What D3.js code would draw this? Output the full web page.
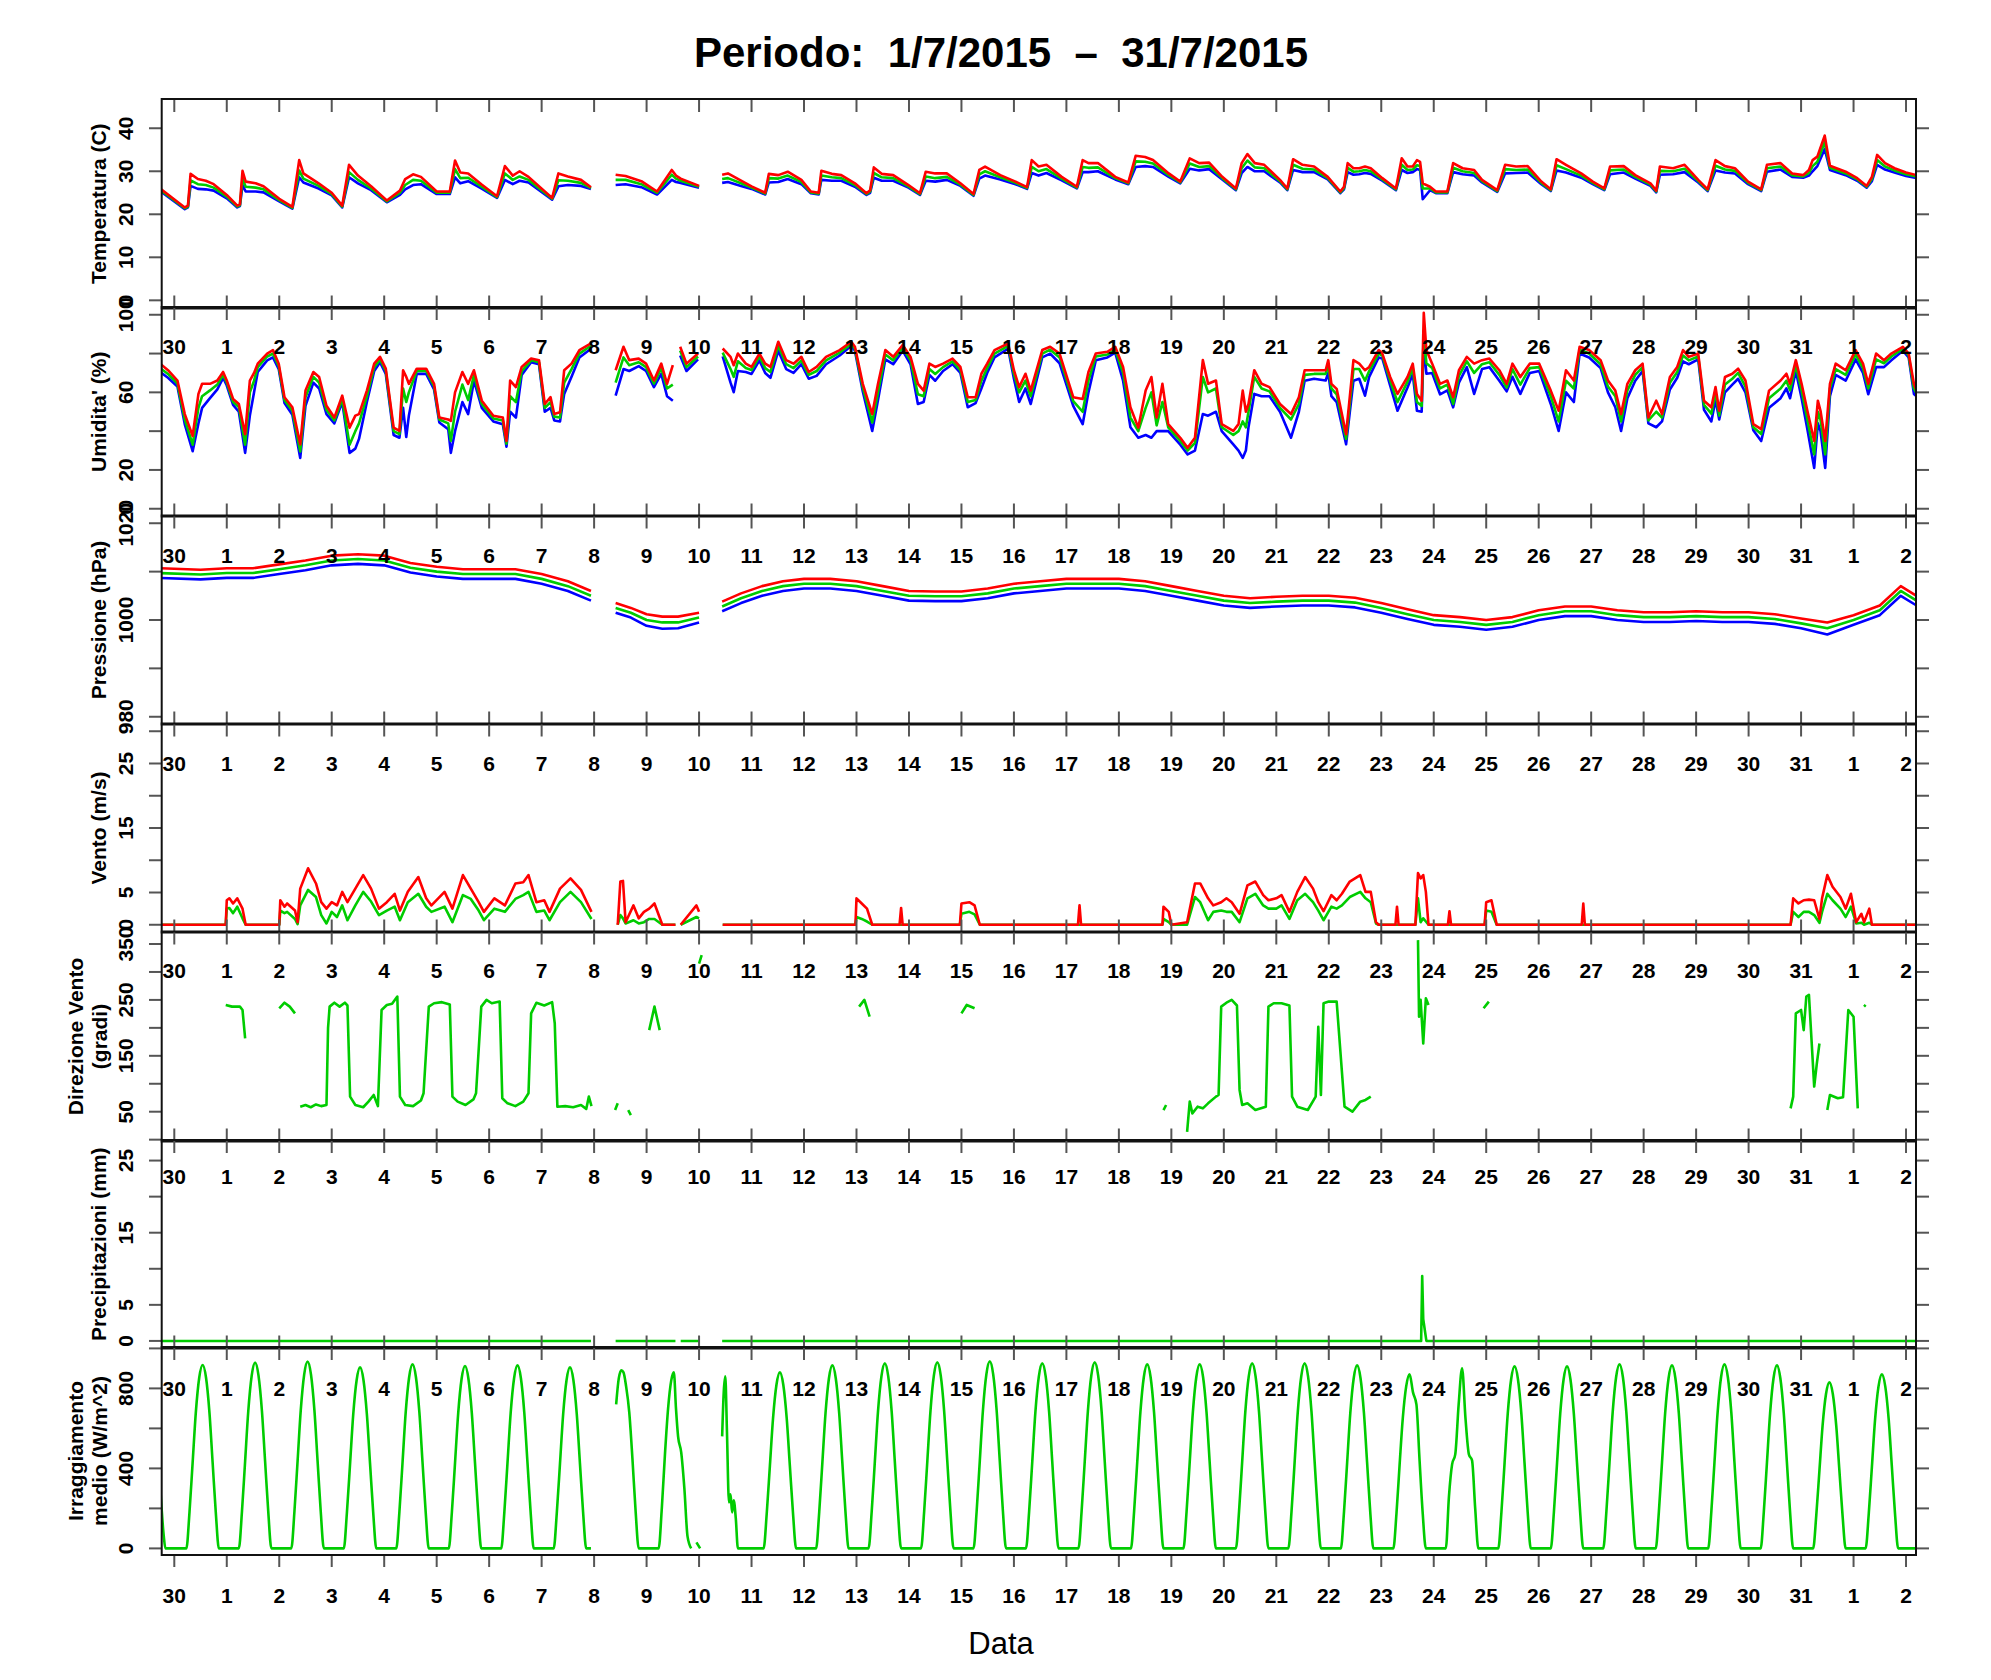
<!DOCTYPE html>
<html>
<head>
<meta charset="utf-8">
<script src="https://cdn.jsdelivr.net/npm/d3@7"></script>
<style>
  body { margin: 0; background: #fff; }
  .axis-text { font-family: "Liberation Sans", Arial, sans-serif; font-weight: bold; font-size: 21px; fill: #000; }
</style>
</head>
<body>
<div id="chart"></div>
<script>
// ---------------- data ----------------
// x is in days: 0 = tick "30", 1 = tick "1", ... 33 = tick "2"
const dayLabels = ["30","1","2","3","4","5","6","7","8","9","10","11","12","13","14","15","16",
  "17","18","19","20","21","22","23","24","25","26","27","28","29","30","31","1","2"];

// Temperatura (C): max (red), media (green), min (blue)
const tempT = [
  -0.27, 0.2, 0.26, 0.31, 0.45, 0.6, 0.75,
  1.0, 1.2, 1.25, 1.3, 1.36, 1.55, 1.7,
  2.0, 2.25, 2.38, 2.46, 2.75,
  3.0, 3.2, 3.33, 3.5, 3.75,
  4.05, 4.3, 4.4, 4.55, 4.7,
  5.0, 5.25, 5.35, 5.45, 5.6, 5.85,
  6.15, 6.3, 6.45, 6.58, 6.75,
  7.2, 7.32, 7.5, 7.75, 7.94, 8.0,
  8.41, 8.6, 8.9,
  9.2, 9.48, 9.56, 9.65,
  10.0, 10.05, 10.44, 10.55, 10.8,
  11.0, 11.26, 11.33, 11.51, 11.69, 11.95,
  12.13, 12.28, 12.33, 12.53, 12.71, 12.97,
  13.19, 13.26, 13.33, 13.48, 13.7, 13.99,
  14.21, 14.32, 14.5, 14.72, 14.98,
  15.23, 15.34, 15.45, 15.74,
  16.03, 16.25, 16.34, 16.47, 16.62, 16.91,
  17.2, 17.31, 17.42, 17.6, 17.93,
  18.18, 18.32, 18.5, 18.65, 18.95,
  19.17, 19.35, 19.53, 19.72, 19.97,
  20.23, 20.34, 20.45, 20.59, 20.77,
  21.07, 21.21, 21.32, 21.5, 21.72, 21.98,
  22.22, 22.29, 22.36, 22.47, 22.58, 22.69, 22.8,
  23.02, 23.28, 23.39, 23.5, 23.6, 23.68, 23.74, 23.79, 23.93,
  24.04, 24.26, 24.37, 24.55, 24.77, 24.92,
  25.21, 25.36, 25.57, 25.79,
  26.05, 26.23, 26.34, 26.52, 26.81,
  27.03, 27.25, 27.36, 27.62, 27.84,
  28.13, 28.24, 28.31, 28.56, 28.78,
  29.04, 29.22, 29.37, 29.55, 29.74, 29.99,
  30.24, 30.35, 30.61, 30.83,
  31.04, 31.15, 31.22, 31.31, 31.45, 31.55, 31.85,
  32.07, 32.25, 32.35, 32.45, 32.6, 32.78,
  33.0, 33.2
];
const tempMax = [
  26.0, 21.6, 22.0, 29.4, 28.2, 27.8, 27.0,
  24.5, 22.0, 22.3, 30.1, 27.6, 27.2, 26.5,
  23.6, 21.7, 32.6, 29.5, 27.2,
  25.0, 22.0, 31.5, 29.0, 26.5,
  23.2, 25.5, 28.2, 29.3, 28.7,
  25.3, 25.3, 32.5, 29.7, 29.5, 27.0,
  24.2, 31.2, 29.0, 30.0, 28.7,
  23.8, 29.5, 28.8, 28.0, 26.3, null,
  29.2, 28.9, 27.7,
  25.3, 30.3, 29.0, 28.3,
  26.6, null, 29.2, 29.5, 27.8,
  26.5, 25.0, 29.4, 29.1, 29.9, 28.0,
  25.3, 25.0, 30.1, 29.4, 29.1, 27.2,
  24.9, 25.6, 30.9, 29.4, 29.1, 26.8,
  24.9, 29.9, 29.5, 29.5, 27.2,
  24.7, 30.3, 31.1, 29.1,
  27.6, 26.3, 32.6, 31.1, 31.5, 28.7,
  26.4, 32.6, 31.9, 31.9, 28.7,
  27.4, 33.6, 33.3, 32.6, 29.5,
  27.6, 33.0, 31.9, 32.0, 28.7,
  26.0, 31.9, 34.0, 31.9, 31.5,
  28.0, 26.0, 32.8, 31.5, 31.1, 28.7,
  25.3, 26.4, 31.9, 30.7, 30.7, 31.1, 30.7,
  28.4, 26.0, 33.0, 31.1, 31.1, 32.6, 32.2, 27.2, 26.4,
  25.3, 25.3, 31.9, 30.7, 30.3, 28.0,
  25.6, 31.5, 31.1, 31.2,
  27.6, 25.8, 32.8, 31.5, 29.5,
  27.6, 26.0, 31.1, 31.2, 29.1,
  27.2, 25.5, 31.1, 30.7, 31.5,
  28.0, 25.8, 32.6, 31.2, 30.7, 27.6,
  25.8, 31.5, 31.9, 29.5,
  29.1, 30.3, 32.6, 33.4, 38.3, 31.3, 29.9,
  28.4, 26.6, 28.7, 33.8, 31.9, 30.7,
  29.7, 29.1
];
const tempMed = [
  25.7, 21.4, 21.8, 27.9, 27.0, 26.8, 26.2,
  24.1, 21.8, 22.1, 28.3, 26.4, 26.2, 25.8,
  23.3, 21.5, 30.2, 28.3, 26.6,
  24.7, 21.8, 29.8, 28.0, 26.0,
  23.0, 25.0, 26.8, 28.0, 27.8,
  25.0, 25.0, 30.5, 28.4, 28.5, 26.5,
  24.0, 29.5, 28.0, 28.8, 28.0,
  23.6, 27.9, 27.8, 27.3, 26.1, null,
  28.0, 28.0, 27.0,
  25.0, 29.2, 28.3, 27.8,
  26.4, null, 28.2, 28.4, 27.2,
  26.2, 24.8, 28.4, 28.3, 29.0, 27.5,
  25.1, 24.8, 29.0, 28.6, 28.4, 26.8,
  24.7, 25.3, 29.6, 28.6, 28.4, 26.5,
  24.7, 28.8, 28.4, 28.7, 26.9,
  24.5, 29.3, 30.0, 28.6,
  27.3, 26.1, 31.0, 30.0, 30.5, 28.3,
  26.2, 31.0, 30.8, 30.9, 28.4,
  27.2, 32.3, 32.2, 31.8, 29.1,
  27.4, 31.8, 31.0, 31.2, 28.4,
  25.8, 30.7, 32.5, 30.9, 30.7,
  27.7, 25.8, 31.5, 30.6, 30.4, 28.4,
  25.1, 26.1, 30.8, 29.9, 30.0, 30.3, 30.0,
  28.1, 25.8, 31.5, 30.3, 30.4, 31.4, 31.2, 26.0, 26.0,
  25.1, 25.1, 30.8, 30.0, 29.6, 27.7,
  25.4, 30.5, 30.3, 30.4,
  27.3, 25.6, 31.4, 30.5, 29.0,
  27.3, 25.8, 30.2, 30.4, 28.7,
  26.9, 25.3, 30.1, 30.0, 30.6,
  27.7, 25.6, 31.3, 30.4, 30.1, 27.3,
  25.6, 30.7, 31.1, 29.1,
  28.8, 29.6, 31.2, 32.2, 36.8, 30.8, 29.5,
  28.1, 26.4, 28.2, 32.6, 31.1, 30.2,
  29.3, 28.8
];
const tempMin = [
  25.4, 21.2, 21.6, 26.6, 25.9, 25.8, 25.5,
  23.7, 21.6, 21.9, 26.8, 25.3, 25.3, 25.1,
  23.0, 21.3, 28.6, 27.4, 26.0,
  24.4, 21.6, 28.6, 27.2, 25.6,
  22.8, 24.5, 25.8, 26.8, 27.0,
  24.7, 24.7, 28.6, 27.2, 27.7, 26.0,
  23.8, 28.0, 27.0, 27.8, 27.4,
  23.4, 26.5, 26.8, 26.6, 25.9, null,
  26.8, 27.0, 26.3,
  24.6, 28.0, 27.5, 27.3,
  26.2, null, 27.3, 27.5, 26.6,
  25.9, 24.6, 27.4, 27.5, 28.2, 27.0,
  24.9, 24.6, 28.0, 27.8, 27.8, 26.4,
  24.5, 25.0, 28.5, 27.8, 27.8, 26.2,
  24.5, 27.8, 27.6, 28.0, 26.6,
  24.3, 28.3, 29.0, 28.1,
  27.0, 25.9, 29.6, 29.0, 29.6, 27.9,
  26.0, 29.8, 29.8, 30.0, 28.1,
  27.0, 31.0, 31.2, 31.0, 28.7,
  27.2, 30.6, 30.2, 30.5, 28.1,
  25.6, 29.6, 31.0, 30.0, 30.0,
  27.4, 25.6, 30.3, 29.8, 29.8, 28.1,
  24.9, 25.8, 29.8, 29.2, 29.3, 29.6, 29.4,
  27.8, 25.6, 30.3, 29.6, 29.8, 30.5, 30.3, 23.5, 25.6,
  24.9, 24.9, 29.8, 29.3, 29.0, 27.4,
  25.2, 29.5, 29.6, 29.7,
  27.0, 25.4, 30.2, 29.7, 28.5,
  27.0, 25.6, 29.3, 29.7, 28.3,
  26.6, 25.1, 29.2, 29.3, 29.8,
  27.4, 25.4, 30.2, 29.7, 29.5, 27.0,
  25.4, 29.9, 30.4, 28.7,
  28.5, 29.0, 30.0, 31.2, 35.2, 30.3, 29.1,
  27.8, 26.2, 27.7, 31.5, 30.4, 29.7,
  28.9, 28.4
];

// Umidita' (%): max (red), media (green), min (blue)
const humT = [
  -0.27, -0.12, 0.06, 0.2, 0.35, 0.46, 0.53, 0.68, 0.82, 0.93,
  1.0, 1.12, 1.23, 1.35, 1.44, 1.52, 1.59, 1.77, 1.88, 1.99,
  2.1, 2.25, 2.4, 2.5, 2.65, 2.76, 2.9,
  3.05, 3.2, 3.34, 3.45, 3.52, 3.67, 3.81, 3.92,
  4.03, 4.18, 4.29, 4.36, 4.42, 4.47, 4.62, 4.8, 4.95,
  5.05, 5.22, 5.27, 5.35, 5.49, 5.6, 5.71, 5.86,
  6.08, 6.26, 6.33, 6.4, 6.51, 6.62, 6.8, 6.95,
  7.06, 7.17, 7.24, 7.35, 7.43, 7.57, 7.72, 7.94, 8.0,
  8.41, 8.56, 8.67, 8.85, 8.99,
  9.14, 9.28, 9.39, 9.5, 9.56, 9.64, 9.76, 9.98,
  10.05, 10.45, 10.6, 10.66, 10.74, 10.89,
  11.0, 11.15, 11.26, 11.36, 11.51, 11.66, 11.8, 11.95,
  12.09, 12.24, 12.42, 12.68, 12.9, 12.97,
  13.12, 13.3, 13.41, 13.55, 13.7, 13.88,
  14.03, 14.17, 14.28, 14.39, 14.5, 14.65, 14.83, 14.98,
  15.12, 15.27, 15.38, 15.49, 15.63, 15.89,
  16.0, 16.1, 16.22, 16.32, 16.54, 16.69, 16.87,
  17.13, 17.31, 17.42, 17.56, 17.78, 17.93,
  18.08, 18.22, 18.37, 18.51, 18.62, 18.72, 18.83, 18.94,
  19.17, 19.31, 19.45, 19.6, 19.7, 19.85, 19.96,
  20.18, 20.28, 20.36, 20.42, 20.47, 20.58, 20.72, 20.87,
  21.07, 21.28, 21.43, 21.54, 21.72, 21.94, 21.99,
  22.05, 22.15, 22.33, 22.47, 22.58, 22.69, 22.77, 22.95,
  23.02, 23.17, 23.31, 23.5, 23.6, 23.68, 23.77, 23.81, 23.86, 23.97,
  24.12, 24.26, 24.37, 24.48, 24.63, 24.77, 24.92,
  25.06, 25.25, 25.39, 25.5, 25.65, 25.83,
  26.01, 26.23, 26.38, 26.52, 26.67, 26.78, 26.96,
  27.18, 27.32, 27.46, 27.57, 27.69, 27.84, 27.98,
  28.09, 28.24, 28.35, 28.5, 28.64, 28.75, 28.86,
  29.04, 29.15, 29.29, 29.37, 29.44, 29.55, 29.69, 29.8, 29.94,
  30.09, 30.24, 30.39, 30.61, 30.72, 30.79, 30.9,
  31.01, 31.12, 31.25, 31.32, 31.37, 31.46, 31.55, 31.66, 31.85,
  32.04, 32.18, 32.28, 32.43, 32.58, 32.72, 32.94,
  33.05, 33.15, 33.2
];
const humMax = [
  74.8, 71.4, 66.1, 48.8, 37.5, 59.2, 64.4, 64.4, 66.1, 70.5,
  66.1, 56.6, 54.0, 38.4, 66.1, 70.0, 74.8, 80.0, 81.8, 74.8,
  57.5, 52.3, 33.2, 60.9, 70.5, 67.9, 53.1,
  47.0, 58.3, 41.8, 48.0, 48.8, 60.9, 74.8, 78.3,
  72.2, 41.8, 40.1, 71.4, 68.0, 64.4, 72.2, 72.2, 64.4,
  47.0, 46.0, 45.3, 60.0, 70.5, 64.4, 71.4, 55.7,
  47.9, 47.0, 34.9, 66.1, 62.7, 73.1, 77.4, 76.6,
  54.0, 57.5, 48.8, 49.7, 71.4, 74.8, 81.8, 85.2, null,
  71.4, 83.5, 76.6, 77.4, 74.8,
  66.1, 74.8, 64.4, 74.0, null, 83.5, 74.8, 80.0,
  null, 82.6, 78.3, 74.0, 80.0, 74.8,
  73.1, 80.0, 74.8, 73.1, 86.1, 76.6, 74.8, 78.3,
  70.5, 73.1, 78.3, 81.8, 86.1, 83.5,
  64.4, 48.8, 64.4, 81.8, 78.3, 84.4,
  78.3, 64.4, 60.9, 74.8, 73.1, 74.8, 77.4, 73.1,
  57.5, 57.5, 69.6, 74.8, 81.8, 85.2,
  71.4, 62.7, 69.6, 60.9, 81.8, 83.5, 80.0,
  57.5, 56.6, 70.5, 80.0, 80.9, 83.5,
  73.1, 52.3, 41.8, 60.9, 67.9, 47.0, 64.4, 43.6,
  36.6, 31.4, 36.6, 76.6, 64.4, 66.1, 43.6,
  40.1, 43.6, 60.9, 50.0, 54.0, 71.4, 64.4, 62.7,
  54.0, 48.8, 57.5, 71.4, 71.4, 71.4, 76.6,
  64.4, 61.8, 38.4, 76.6, 74.8, 71.4, 73.1, 81.8,
  80.0, 67.9, 59.2, 67.9, 74.8, 59.2, 55.7, 101.0, 81.8, 74.8,
  64.4, 66.1, 57.5, 71.4, 78.3, 74.8, 76.6,
  77.4, 71.4, 64.4, 74.8, 67.9, 74.8,
  74.8, 60.9, 50.5, 71.4, 66.1, 83.5, 81.8,
  76.6, 66.1, 60.9, 48.8, 64.4, 71.4, 74.8,
  47.0, 55.7, 48.8, 67.9, 73.1, 81.8, 78.3,
  80.0, 55.7, 52.3, 62.7, 50.5, 67.9, 69.6, 72.2, 66.1,
  43.6, 41.0, 60.9, 66.1, 69.6, 64.4, 76.6,
  64.4, 50.5, 34.9, 55.7, 50.5, 34.9, 64.4, 74.8, 71.4,
  81.8, 74.8, 64.4, 80.0, 76.6, 80.0, 83.5,
  80.0, 64.4, 60.9
];
const humMed = [
  72.5, 69.5, 64.5, 46.0, 33.0, 52.0, 58.0, 61.0, 64.0, 69.0,
  65.0, 55.0, 52.5, 33.0, 60.0, 66.0, 73.0, 78.5, 80.0, 73.5,
  56.0, 50.5, 29.5, 57.5, 68.0, 65.0, 51.0,
  45.5, 56.5, 33.0, 40.0, 44.0, 58.0, 73.0, 77.0,
  71.0, 40.0, 38.5, 62.0, 55.0, 60.0, 71.0, 71.0, 63.0,
  46.0, 44.0, 35.0, 50.0, 64.0, 56.0, 69.0, 54.0,
  46.5, 45.5, 33.5, 58.0, 55.0, 71.0, 76.5, 75.5,
  52.0, 55.0, 47.5, 47.0, 65.0, 72.0, 80.0, 84.0, null,
  65.0, 78.0, 74.0, 75.5, 73.0,
  64.5, 72.5, 62.0, 64.0, null, 81.5, 73.0, 78.5,
  null, 80.5, 72.0, 68.0, 76.0, 72.5,
  71.5, 78.5, 72.5, 70.5, 84.0, 74.5, 72.5, 76.5,
  69.0, 71.0, 76.5, 80.5, 85.0, 82.5,
  62.5, 44.5, 60.0, 79.5, 76.5, 83.0,
  76.5, 59.0, 58.0, 72.0, 69.5, 73.0, 76.0, 71.5,
  55.0, 56.0, 66.0, 72.5, 80.0, 84.0,
  69.5, 60.0, 66.0, 58.0, 80.0, 82.0, 78.0,
  55.5, 50.0, 66.0, 78.5, 79.5, 82.0,
  70.0, 47.0, 40.0, 52.0, 60.0, 43.0, 55.0, 42.0,
  35.0, 30.0, 34.0, 67.9, 60.0, 62.0, 42.0,
  38.0, 40.0, 45.0, 42.0, 50.0, 68.0, 62.0, 60.5,
  52.0, 46.0, 54.0, 69.0, 69.5, 69.5, 74.0,
  62.0, 59.0, 36.0, 72.0, 72.0, 66.0, 71.0, 80.0,
  79.0, 66.0, 55.0, 65.5, 72.5, 55.0, 53.0, 92.0, 75.0, 72.5,
  62.0, 64.0, 54.0, 68.5, 76.0, 70.0, 74.5,
  75.5, 69.0, 62.5, 72.0, 64.0, 72.5,
  73.0, 58.0, 45.0, 66.0, 62.0, 82.0, 80.0,
  74.5, 63.0, 58.0, 45.0, 61.0, 69.0, 73.0,
  45.5, 50.0, 47.0, 65.0, 70.5, 79.0, 76.5,
  78.5, 53.5, 49.0, 60.0, 48.0, 64.0, 67.0, 70.0, 63.0,
  42.0, 38.5, 57.0, 62.0, 66.0, 61.0, 74.0,
  61.0, 46.0, 28.0, 50.0, 46.0, 28.0, 62.0, 72.0, 69.0,
  79.5, 72.5, 62.0, 77.0, 75.0, 78.5, 82.5,
  79.0, 62.0, 59.5
];
const humMin = [
  70.5, 67.5, 63.0, 43.5, 29.7, 44.0, 52.0, 57.0, 61.5, 67.5,
  63.5, 53.5, 50.0, 28.8, 48.0, 60.0, 70.5, 76.5, 78.0, 72.0,
  54.5, 48.5, 26.2, 53.0, 65.0, 62.0, 48.8,
  44.0, 55.0, 28.8, 31.0, 36.0, 55.0, 71.0, 75.5,
  69.5, 38.0, 36.6, 52.0, 37.0, 48.0, 69.5, 69.5, 61.5,
  44.5, 41.0, 28.8, 40.0, 55.0, 48.8, 66.0, 52.0,
  45.0, 43.5, 32.0, 50.0, 47.0, 69.0, 75.5, 74.5,
  50.0, 52.0, 45.5, 45.0, 59.2, 68.0, 78.0, 82.5, null,
  58.3, 72.0, 71.0, 73.5, 71.0,
  62.7, 69.5, 58.0, 55.7, null, 79.0, 71.0, 77.0,
  null, 78.5, 65.0, 60.1, 71.0, 70.5,
  69.5, 76.5, 70.0, 67.5, 81.5, 72.0, 70.0, 74.5,
  67.0, 68.5, 74.5, 79.0, 84.0, 81.5,
  60.5, 40.1, 56.0, 77.0, 74.5, 81.5,
  74.5, 54.0, 55.0, 69.0, 66.0, 71.0, 74.5, 70.0,
  52.3, 54.5, 62.0, 70.0, 78.0, 82.5,
  67.0, 55.0, 62.0, 54.0, 78.0, 80.0, 75.0,
  53.0, 43.6, 60.0, 76.5, 78.0, 80.5,
  66.0, 42.0, 36.6, 38.0, 36.6, 40.0, 40.0, 40.0,
  33.0, 28.0, 30.0, 48.8, 48.0, 50.0, 40.0,
  33.2, 30.0, 26.2, 30.0, 42.0, 59.2, 58.0, 58.0,
  50.0, 36.6, 50.0, 66.0, 67.0, 66.1, 70.0,
  58.0, 55.0, 33.2, 66.0, 67.0, 58.3, 68.0, 78.0,
  77.5, 63.5, 50.5, 62.5, 69.5, 50.5, 50.0, 85.0, 69.6, 70.0,
  59.0, 61.0, 52.3, 65.0, 73.0, 59.2, 72.0,
  73.0, 66.0, 60.5, 68.0, 59.2, 70.0,
  71.0, 54.0, 40.1, 60.0, 55.0, 80.0, 78.0,
  72.5, 60.0, 52.3, 40.1, 57.0, 66.0, 71.0,
  44.0, 42.0, 45.0, 61.5, 67.5, 76.0, 74.5,
  77.0, 51.0, 45.0, 56.0, 46.0, 60.0, 64.0, 67.0, 60.0,
  40.5, 34.9, 52.0, 57.0, 62.0, 57.0, 71.0,
  57.0, 41.0, 21.0, 44.0, 40.0, 21.0, 58.0, 69.0, 66.0,
  77.0, 70.0, 59.0, 73.0, 73.0, 76.5, 81.5,
  78.0, 59.2, 58.0
];

// Pressione (hPa)
const pressT = [-0.27, 0.5, 1.0, 1.5, 2.0, 2.5, 3.0, 3.5, 4.0, 4.5, 5.0, 5.5, 6.0, 6.5, 7.0, 7.5, 7.94, 8.0,
  8.41, 8.7, 9.0, 9.3, 9.6, 10.0, 10.05, 10.44, 10.8, 11.2, 11.6, 12.0, 12.5, 13.0, 13.5, 14.0, 14.5,
  15.0, 15.5, 16.0, 16.5, 17.0, 17.5, 18.0, 18.5, 19.0, 19.5, 20.0, 20.5, 21.0, 21.5, 22.0, 22.5,
  23.0, 23.5, 24.0, 24.5, 25.0, 25.5, 26.0, 26.5, 27.0, 27.5, 28.0, 28.5, 29.0, 29.5, 30.0, 30.5,
  31.0, 31.5, 32.0, 32.5, 32.9, 33.2];
const pressMax = [1010.7, 1010.4, 1010.7, 1010.7, 1011.5, 1012.3, 1013.3, 1013.6, 1013.3, 1011.8, 1011.0, 1010.5, 1010.5, 1010.5, 1009.5, 1008.0, 1006.0, null,
  1003.5, 1002.5, 1001.2, 1000.7, 1000.7, 1001.5, null, 1003.8, 1005.5, 1007.0, 1008.0, 1008.5, 1008.5, 1008.0, 1007.0, 1006.0, 1005.9,
  1005.9, 1006.5, 1007.5, 1008.0, 1008.5, 1008.5, 1008.5, 1008.0, 1007.0, 1006.0, 1005.0, 1004.5, 1004.8, 1005.0, 1005.0, 1004.6,
  1003.5, 1002.2, 1001.0, 1000.6, 1000.0, 1000.6, 1002.0, 1002.8, 1002.8, 1002.0, 1001.6, 1001.6, 1001.8, 1001.6, 1001.6, 1001.2,
  1000.3, 999.5, 1001.0, 1003.0, 1007.0, 1005.0];
const pressMed = [1009.7, 1009.4, 1009.7, 1009.7, 1010.5, 1011.3, 1012.3, 1012.6, 1012.3, 1010.8, 1010.0, 1009.5, 1009.5, 1009.5, 1008.5, 1007.0, 1005.0, null,
  1002.5, 1001.5, 1000.0, 999.5, 999.5, 1000.5, null, 1002.8, 1004.5, 1006.0, 1007.0, 1007.5, 1007.5, 1007.0, 1006.0, 1005.0, 1004.9,
  1004.9, 1005.5, 1006.5, 1007.0, 1007.5, 1007.5, 1007.5, 1007.0, 1006.0, 1005.0, 1004.0, 1003.5, 1003.8, 1004.0, 1004.0, 1003.6,
  1002.5, 1001.2, 1000.0, 999.6, 999.0, 999.6, 1001.0, 1001.8, 1001.8, 1001.0, 1000.6, 1000.6, 1000.8, 1000.6, 1000.6, 1000.2,
  999.3, 998.3, 1000.0, 1002.0, 1006.0, 1004.0];
const pressMin = [1008.7, 1008.4, 1008.7, 1008.7, 1009.5, 1010.3, 1011.3, 1011.6, 1011.3, 1009.8, 1009.0, 1008.5, 1008.5, 1008.5, 1007.5, 1006.0, 1004.0, null,
  1001.5, 1000.5, 998.8, 998.2, 998.3, 999.5, null, 1001.8, 1003.5, 1005.0, 1006.0, 1006.5, 1006.5, 1006.0, 1005.0, 1004.0, 1003.9,
  1003.9, 1004.5, 1005.5, 1006.0, 1006.5, 1006.5, 1006.5, 1006.0, 1005.0, 1004.0, 1003.0, 1002.5, 1002.8, 1003.0, 1003.0, 1002.6,
  1001.5, 1000.2, 999.0, 998.6, 998.0, 998.6, 1000.0, 1000.8, 1000.8, 1000.0, 999.6, 999.6, 999.8, 999.6, 999.6, 999.2,
  998.3, 997.0, 999.0, 1001.0, 1005.0, 1003.0];

// Vento (m/s): raffica (red), media (green)
const windT = [
  -0.27, 0.98, 1.0, 1.05, 1.12, 1.2, 1.3, 1.36,
  2.0, 2.02, 2.1, 2.15, 2.3, 2.35, 2.4, 2.55, 2.7, 2.8, 2.9,
  3.0, 3.1, 3.2, 3.3, 3.45, 3.6, 3.75, 3.9,
  4.05, 4.2, 4.3, 4.45, 4.65, 4.8, 4.9,
  5.15, 5.3, 5.5, 5.65, 5.8, 5.9,
  6.1, 6.3, 6.5, 6.65, 6.75, 6.9,
  7.05, 7.15, 7.35, 7.55, 7.75, 7.95, 8.0,
  8.45, 8.5, 8.55, 8.6, 8.75, 8.85, 8.95,
  9.05, 9.15, 9.3, 9.55, 9.6, 9.65, 9.95, 10.0, 10.05,
  10.45, 12.98, 13.0, 13.1, 13.2, 13.3, 13.82, 13.85, 13.88,
  14.97, 15.0, 15.15, 15.25, 15.35, 17.22, 17.25, 17.28,
  18.83, 18.85, 18.95, 19.0, 19.3, 19.45, 19.55, 19.7, 19.8, 19.95,
  20.05, 20.15, 20.3, 20.45, 20.6, 20.75, 20.85,
  21.0, 21.1, 21.25, 21.4, 21.55, 21.7, 21.8, 21.9,
  22.05, 22.15, 22.25, 22.4, 22.6, 22.7, 22.8, 22.9, 22.95,
  23.27, 23.3, 23.33, 23.65, 23.7, 23.75, 23.8, 23.85, 23.9,
  24.27, 24.3, 24.33, 24.97, 25.0, 25.1, 25.2, 26.82, 26.85, 26.88,
  30.8, 30.85, 30.95, 31.05, 31.15, 31.25, 31.35, 31.4, 31.5, 31.6, 31.75, 31.85, 31.95,
  32.05, 32.15, 32.2, 32.3, 32.35, 33.2
];
const windMax = [
  0, 0, 3.8, 4.1, 3.3, 4.1, 2.5, 0,
  0, 3.8, 2.8, 3.3, 2.2, 0.4, 5.6, 8.75, 6.4, 3.5, 2.5,
  3.5, 3.0, 5.1, 3.5, 5.6, 7.7, 5.6, 2.5,
  3.5, 4.8, 2.2, 5.1, 7.4, 4.1, 3.0,
  5.1, 2.5, 7.7, 5.6, 3.5, 2.0,
  4.1, 3.0, 6.4, 6.6, 7.7, 3.5,
  3.8, 2.0, 5.6, 7.2, 5.4, 2.0, null,
  0, 6.7, 6.8, 0.4, 3.0, 1.0, 2.0,
  2.5, 3.3, 0, 0, null, 0, 3.0, 2.0, null,
  0, 0, 4.1, 3.3, 2.5, 0, 0, 2.6, 0,
  0, 3.3, 3.5, 3.0, 0, 0, 3.0, 0,
  0, 2.8, 2.0, 0, 0.4, 6.4, 6.4, 4.1, 3.0, 3.5,
  4.1, 3.5, 1.7, 6.1, 6.7, 4.6, 3.8,
  4.1, 4.6, 2.0, 5.1, 7.4, 5.6, 3.5, 2.1,
  4.6, 3.8, 4.8, 6.7, 7.7, 5.1, 5.1, 0.4, 0,
  0, 2.8, 0, 0, 8.0, 7.2, 7.7, 5.1, 0,
  0, 2.1, 0, 0, 3.5, 3.8, 0, 0, 3.3, 0,
  0, 4.1, 3.3, 3.8, 3.9, 3.8, 0.9, 4.1, 7.7, 5.9, 4.3, 2.5, 4.8,
  0.4, 1.7, 0.4, 2.5, 0, 0
];
const windMed = [
  0, 0, 2.5, 2.6, 1.8, 2.8, 1.0, 0,
  0, 2.2, 1.8, 2.0, 0.9, 0.1, 3.0, 5.4, 4.3, 1.5, 0.2,
  2.0, 1.2, 3.0, 0.7, 3.0, 5.1, 3.6, 1.5,
  2.2, 2.8, 0.7, 3.5, 4.8, 2.8, 2.0,
  2.8, 0.4, 4.6, 4.0, 2.2, 0.7,
  2.5, 2.0, 4.0, 4.6, 5.1, 2.0,
  2.2, 0.7, 3.5, 5.1, 3.5, 0.9, null,
  0, 1.5, 1.0, 0.2, 0.7, 0.2, 0.4,
  0.9, 0.9, 0, 0, null, 0, 1.2, 1.0, null,
  0, 0, 1.2, 0.9, 0.5, 0, 0, 0, 0,
  0, 1.7, 2.0, 1.6, 0, 0, 0, 0,
  0, 0.9, 0.4, 0, 0, 4.3, 3.5, 0.7, 2.0, 2.2,
  2.0, 2.0, 0.4, 4.1, 4.8, 3.0, 2.5,
  2.5, 3.0, 0.9, 3.8, 4.8, 3.5, 2.2, 0.7,
  2.8, 2.5, 3.0, 4.3, 5.1, 4.1, 3.5, 0.2, 0,
  0, 0, 0, 0, 4.1, 0.4, 1.0, 0.5, 0,
  0, 0, 0, 0, 2.2, 2.0, 0, 0, 0, 0,
  0, 2.0, 1.2, 2.0, 2.0, 1.5, 0.3, 2.0, 4.8, 3.8, 2.5, 1.2, 2.8,
  0.2, 0.3, 0, 0.3, 0, 0
];

// Direzione Vento (gradi)
const dirT = [
  0.98, 1.1, 1.25, 1.3, 1.35, 1.6,
  2.0, 2.1, 2.2, 2.3, 2.35,
  2.4, 2.5, 2.6, 2.7, 2.8, 2.9, 2.93, 2.96, 3.05, 3.15, 3.25, 3.3, 3.35, 3.45, 3.6, 3.7, 3.8, 3.88, 3.95,
  4.05, 4.15, 4.25, 4.3, 4.4, 4.55, 4.7, 4.75, 4.85, 4.95,
  5.1, 5.25, 5.3, 5.4, 5.55, 5.7, 5.75, 5.85, 5.95,
  6.05, 6.2, 6.25, 6.35, 6.5, 6.65, 6.75, 6.8, 6.9,
  7.05, 7.2, 7.25, 7.3, 7.45, 7.6, 7.75, 7.85, 7.9, 7.95, 8.1,
  8.4, 8.45, 8.55, 8.65, 8.7, 8.8,
  9.05, 9.15, 9.25, 9.4,
  10.0, 10.05, 10.2,
  13.05, 13.15, 13.25, 13.4,
  15.0, 15.1, 15.25, 15.4,
  18.85, 18.9, 19.0,
  19.3, 19.35, 19.4, 19.5, 19.6, 19.7, 19.85, 19.9, 19.95, 20.05, 20.15, 20.25, 20.3, 20.35, 20.45, 20.6, 20.8, 20.85, 20.95,
  21.1, 21.25, 21.3, 21.4, 21.6, 21.75, 21.8, 21.85, 21.9, 22.0, 22.15, 22.3, 22.45, 22.6, 22.7, 22.8, 23.0,
  23.7, 23.72, 23.75, 23.8, 23.85, 23.9, 24.0,
  24.95, 25.05, 25.2,
  30.8, 30.85, 30.9, 31.0, 31.05, 31.1, 31.15, 31.25, 31.3, 31.35, 31.42,
  31.5, 31.55, 31.7, 31.8, 31.9, 32.0, 32.08, 32.14,
  32.2, 32.23
];
const dirV = [
  241, 238, 238, 232, 181, null,
  235, 245, 238, 226, null,
  59, 62, 58, 63, 60, 62, 200, 238, 245, 238, 245, 240, 77, 62, 58, 68, 80, 60, 232,
  241, 243, 256, 77, 62, 60, 70, 83, 238, 244,
  246, 242, 77, 68, 62, 72, 83, 238, 250,
  244, 247, 74, 65, 60, 68, 83, 226, 245,
  240, 246, 208, 59, 60, 58, 62, 55, 77, 60, null,
  53, 65, null, 53, 44, null,
  196, 238, 196, null,
  315, 330, null,
  238, 250, 220, null,
  226, 241, 235, null,
  53, 62, null,
  14, 68, 47, 59, 56, 65, 77, 80, 238, 245, 250, 240, 89, 62, 65, 53, 59, 238, 244,
  244, 240, 77, 59, 53, 77, 202, 80, 244, 247, 247, 59, 50, 68, 71, 77, null,
  357, 220, 250, 172, 253, 241, null,
  235, 247, null,
  56, 77, 226, 232, 196, 256, 259, 95, 136, 172, null,
  53, 80, 74, 76, 232, 220, 56, null,
  238, 241
];

// Precipitazioni (mm)
const rainT = [-0.27, 7.94, 8.0, 8.41, 9.55, 9.6, 9.65, 10.0, 10.05, 10.44, 23.76, 23.78, 23.8, 23.84, 23.86, 33.2];
const rainV = [0, 0, null, 0, 0, null, 0, 0, null, 0, 0, 9.0, 3.0, 1.0, 0, 0];

// Irraggiamento medio (W/m^2): one row per regular day, sampled at irrOffsets within the day
const irrOffsets = [0.23, 0.29, 0.35, 0.41, 0.475, 0.54, 0.605, 0.67, 0.73, 0.79, 0.85];
const irrDays = [0, 1, 2, 3, 4, 5, 6, 7, 11, 12, 13, 14, 15, 16, 17, 18, 19, 20, 21,
  22, 23, 24, 25, 26, 27, 28, 29, 30, 31, 32];
const irrRows = [
  [0, 183, 431, 679, 853, 917, 853, 679, 431, 183, 0],
  [0, 186, 437, 687, 864, 929, 864, 687, 437, 186, 0],
  [0, 187, 439, 691, 869, 934, 869, 691, 439, 187, 0],
  [0, 181, 425, 670, 842, 905, 842, 670, 425, 181, 0],
  [0, 184, 432, 681, 856, 920, 856, 681, 432, 184, 0],
  [0, 182, 429, 675, 848, 912, 848, 675, 429, 182, 0],
  [0, 183, 430, 677, 851, 915, 851, 677, 430, 183, 0],
  [0, 181, 425, 670, 842, 905, 842, 670, 425, 181, 0],
  [0, 176, 414, 651, 818, 880, 818, 651, 414, 176, 0],
  [0, 183, 430, 677, 851, 915, 851, 677, 430, 183, 0],
  [0, 185, 435, 685, 860, 925, 860, 685, 435, 185, 0],
  [0, 186, 437, 688, 865, 930, 865, 688, 437, 186, 0],
  [0, 187, 439, 692, 870, 935, 870, 692, 439, 187, 0],
  [0, 185, 435, 685, 860, 925, 860, 685, 435, 185, 0],
  [0, 186, 437, 688, 865, 930, 865, 688, 437, 186, 0],
  [0, 184, 432, 681, 856, 920, 856, 681, 432, 184, 0],
  [0, 184, 432, 681, 856, 920, 856, 681, 432, 184, 0],
  [0, 185, 435, 685, 860, 925, 860, 685, 435, 185, 0],
  [0, 185, 435, 685, 860, 925, 860, 685, 435, 185, 0],
  [0, 183, 430, 677, 851, 915, 851, 677, 430, 183, 0],
  [0, 175, 420, 650, 810, 870, 780, 720, 440, 175, 0],
  [0, 260, 420, 470, 720, 900, 650, 470, 440, 200, 0],
  [0, 182, 428, 673, 846, 910, 846, 673, 428, 182, 0],
  [0, 182, 428, 673, 846, 910, 846, 673, 428, 182, 0],
  [0, 184, 432, 681, 856, 920, 856, 681, 432, 184, 0],
  [0, 183, 430, 677, 851, 915, 851, 677, 430, 183, 0],
  [0, 184, 432, 681, 856, 920, 856, 681, 432, 184, 0],
  [0, 183, 430, 677, 851, 915, 851, 677, 430, 183, 0],
  [0, 166, 390, 614, 772, 830, 772, 614, 390, 166, 0],
  [0, 174, 409, 644, 809, 870, 809, 644, 409, 174, 0]
];
// irregular stretches (start of record, days 8-10 with gaps, end of record)
const irrExtraT = [-0.27, -0.2, -0.17, 7.94, 8.1, 8.42, 8.47, 8.52, 8.56, 8.61, 8.67, 8.73, 8.79, 8.85,
  9.23, 9.29, 9.35, 9.41, 9.47, 9.52, 9.56, 9.6, 9.66, 9.72, 9.78, 9.85, 9.9, 9.95, 10.02, 10.2,
  10.44, 10.47, 10.5, 10.53, 10.57, 10.6, 10.63, 10.66, 10.7, 10.74, 33.2];
const irrExtraV = [315, 60, 0, 0, null, 720, 850, 890, 880, 810, 680, 450, 190, 0,
  0, 200, 470, 700, 840, 880, 700, 560, 480, 300, 60, 0, null, 30, 0, null,
  560, 780, 860, 600, 230, 270, 180, 240, 150, 0, 0];

// y axis ticks and labels per panel
const tempTicks = [0, 10, 20, 30, 40],               tempLabels = [0, 10, 20, 30, 40];
const humTicks = [0, 20, 40, 60, 80, 100],            humLabels = [0, 20, 60, 100];
const pressTicks = [980, 990, 1000, 1010, 1020],      pressLabels = [980, 1000, 1020];
const windTicks = [0, 5, 10, 15, 20, 25, 30],         windLabels = [0, 5, 15, 25];
const dirTicks = [0, 50, 100, 150, 200, 250, 300, 350], dirLabels = [50, 150, 250, 350];
const rainTicks = [0, 5, 10, 15, 20, 25],             rainLabels = [0, 5, 15, 25];
const irrTicks = [0, 200, 400, 600, 800, 1000],       irrLabels = [0, 400, 800];

// ---------------- layout ----------------
const width = 1991, height = 1680;
const plotLeft = 161.7, plotRight = 1916;
const tickLen = 13;
const colMax = "#ff0000", colMed = "#00cc00", colMin = "#0000ff";

const xScale = d3.scaleLinear().domain([-0.24, 33.19]).range([plotLeft, plotRight]);

const rows = (t, v) => t.map((d, i) => ({t: d, v: v[i]}));

// irradiance points: regular days + irregular stretches, in time order
const irrPoints = [];
irrDays.forEach((day, k) => irrOffsets.forEach((o, j) => irrPoints.push({t: day + o, v: irrRows[k][j]})));
irrExtraT.forEach((t, i) => irrPoints.push({t: t, v: irrExtraV[i]}));
irrPoints.sort((a, b) => a.t - b.t);

const panels = [
  {top: 99, bottom: 308.5, domain: [-1.9, 46.8], ticks: tempTicks, labels: tempLabels,
   title: ["Temperatura (C)"], dayY: null,
   series: [[rows(tempT, tempMin), colMin], [rows(tempT, tempMed), colMed], [rows(tempT, tempMax), colMax]]},
  {top: 307, bottom: 516.5, domain: [-4, 104], ticks: humTicks, labels: humLabels,
   title: ["Umidita' (%)"], dayY: 354,
   series: [[rows(humT, humMin), colMin], [rows(humT, humMed), colMed], [rows(humT, humMax), colMax]]},
  {top: 515.5, bottom: 724.5, domain: [978.4, 1021.6], ticks: pressTicks, labels: pressLabels,
   title: ["Pressione (hPa)"], dayY: 562.5,
   series: [[rows(pressT, pressMin), colMin], [rows(pressT, pressMed), colMed], [rows(pressT, pressMax), colMax]]},
  {top: 723.5, bottom: 932.5, domain: [-1.2, 31.2], ticks: windTicks, labels: windLabels,
   title: ["Vento (m/s)"], dayY: 770.5,
   series: [[rows(windT, windMed), colMed], [rows(windT, windMax), colMax]]},
  {top: 931.5, bottom: 1141.5, domain: [-3.3, 372.4], ticks: dirTicks, labels: dirLabels,
   title: ["Direzione Vento", "(gradi)"], dayY: 977.5,
   series: [[rows(dirT, dirV), colMed]]},
  {top: 1140, bottom: 1348.5, domain: [-1.05, 27.85], ticks: rainTicks, labels: rainLabels,
   title: ["Precipitazioni (mm)"], dayY: 1184,
   series: [[rows(rainT, rainV), colMed]]},
  {top: 1347, bottom: 1555, domain: [-33, 1007], ticks: irrTicks, labels: irrLabels,
   title: ["Irraggiamento", "medio (W/m^2)"], dayY: 1396, smooth: true,
   series: [[irrPoints, colMed]]}
];

const svg = d3.select("#chart")
  .append("svg")
    .attr("width", width)
    .attr("height", height)
    .style("background", "#fff");

// title
svg.append("text")
  .attr("x", 1001)
  .attr("y", 67)
  .attr("text-anchor", "middle")
  .style("font-family", "'Liberation Sans', Arial, sans-serif")
  .style("font-weight", "bold")
  .style("font-size", "42px")
  .style("white-space", "pre")
  .text("Periodo:  1/7/2015  \u2013  31/7/2015");

const dayTicks = d3.range(dayLabels.length);

panels.forEach((p, idx) => {
  const yScale = d3.scaleLinear().domain(p.domain).range([p.bottom, p.top]);
  const g = svg.append("g");
  const last = idx === panels.length - 1;

  // clip for the lines
  const clipId = "clip" + idx;
  svg.append("defs").append("clipPath")
      .attr("id", clipId)
    .append("rect")
      .attr("x", plotLeft)
      .attr("y", p.top)
      .attr("width", plotRight - plotLeft)
      .attr("height", p.bottom - p.top);

  // data lines
  const line = d3.line()
    .defined(d => d.v !== null)
    .curve(p.smooth ? d3.curveMonotoneX : d3.curveLinear)
    .x(d => xScale(d.t))
    .y(d => yScale(d.v));
  const area = g.append("g").attr("clip-path", `url(#${clipId})`);
  p.series.forEach(([data, color]) => {
    area.append("path")
      .datum(data)
      .attr("d", line)
      .attr("fill", "none")
      .attr("stroke", color)
      .attr("stroke-width", 2.6)
      .attr("stroke-linejoin", "round");
  });

  // x ticks: inward at top, inward at bottom (outward on the last panel)
  dayTicks.forEach(d => {
    const xx = xScale(d);
    g.append("line")
      .attr("x1", xx).attr("x2", xx)
      .attr("y1", p.top).attr("y2", p.top + tickLen)
      .attr("stroke", "#555").attr("stroke-width", 2);
    g.append("line")
      .attr("x1", xx).attr("x2", xx)
      .attr("y1", last ? p.bottom : p.bottom - tickLen)
      .attr("y2", last ? p.bottom + 12 : p.bottom)
      .attr("stroke", "#555").attr("stroke-width", 2);
  });

  // day labels inside the panel
  if (p.dayY !== null) {
    g.selectAll(null)
      .data(dayTicks)
      .join("text")
        .attr("class", "axis-text")
        .attr("x", d => xScale(d))
        .attr("y", p.dayY)
        .attr("text-anchor", "middle")
        .text(d => dayLabels[d]);
  }

  // y ticks on both sides
  p.ticks.forEach(v => {
    const yy = yScale(v);
    g.append("line")
      .attr("x1", plotLeft - 12.7).attr("x2", plotLeft)
      .attr("y1", yy).attr("y2", yy)
      .attr("stroke", "#555").attr("stroke-width", 2);
    g.append("line")
      .attr("x1", plotRight).attr("x2", plotRight + 13)
      .attr("y1", yy).attr("y2", yy)
      .attr("stroke", "#555").attr("stroke-width", 2);
  });

  // y tick labels (rotated, parallel to the axis)
  p.labels.forEach(v => {
    const yy = yScale(v);
    g.append("text")
      .attr("class", "axis-text")
      .attr("text-anchor", "middle")
      .attr("transform", `translate(133,${yy}) rotate(-90)`)
      .text(v);
  });

  // y axis title
  const cy = (p.top + p.bottom) / 2;
  const titleX = p.title.length === 1 ? [106] : [83, 107];
  p.title.forEach((s, i) => {
    g.append("text")
      .attr("class", "axis-text")
      .attr("text-anchor", "middle")
      .attr("transform", `translate(${titleX[i]},${cy}) rotate(-90)`)
      .text(s);
  });

  // frame
  g.append("rect")
    .attr("x", plotLeft)
    .attr("y", p.top)
    .attr("width", plotRight - plotLeft)
    .attr("height", p.bottom - p.top)
    .attr("fill", "none")
    .attr("stroke", "#111")
    .attr("stroke-width", 2);
});

// bottom day labels
svg.selectAll(null)
  .data(dayTicks)
  .join("text")
    .attr("class", "axis-text")
    .attr("x", d => xScale(d))
    .attr("y", 1603)
    .attr("text-anchor", "middle")
    .text(d => dayLabels[d]);

// x axis label
svg.append("text")
  .attr("x", 1001)
  .attr("y", 1654)
  .attr("text-anchor", "middle")
  .style("font-family", "'Liberation Sans', Arial, sans-serif")
  .style("font-size", "31px")
  .text("Data");
</script>
</body>
</html>
